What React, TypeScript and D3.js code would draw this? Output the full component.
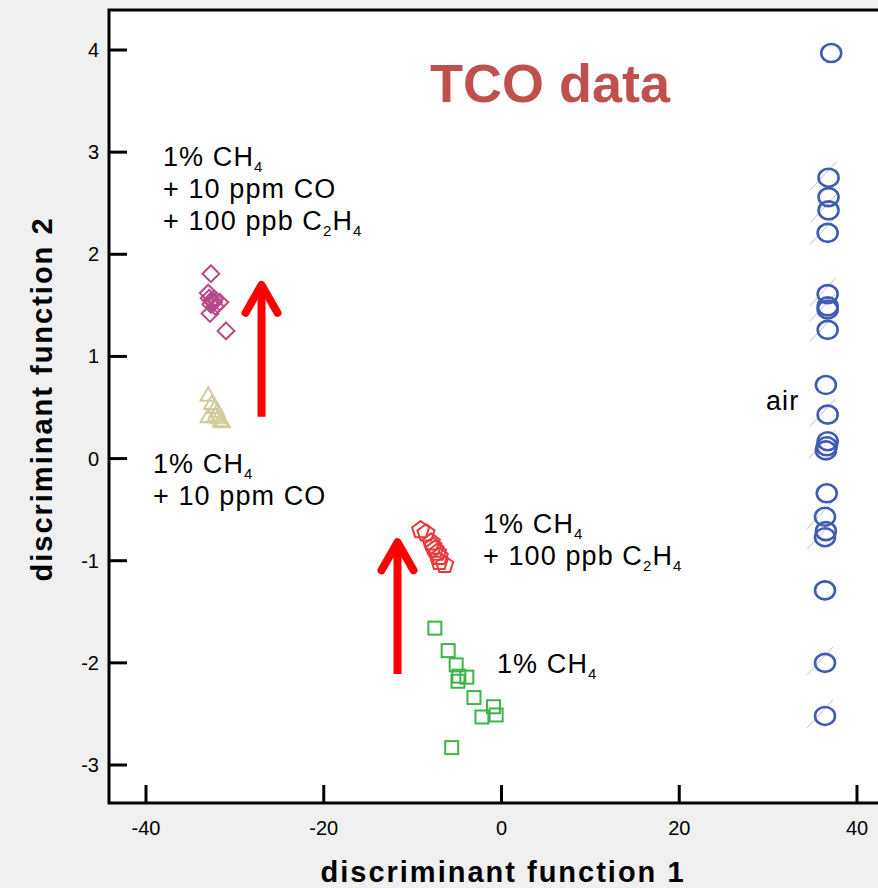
import * as d3 from "d3";

// discriminant scores
const airPts: [number, number][] = [
  [37.1, 3.97], [36.8, 2.75], [36.8, 2.56], [36.8, 2.43], [36.7, 2.21],
  [36.7, 1.61], [36.7, 1.49], [36.7, 1.46], [36.7, 1.26], [36.5, 0.72],
  [36.7, 0.43], [36.7, 0.17], [36.6, 0.12], [36.5, 0.08], [36.6, -0.34],
  [36.4, -0.57], [36.5, -0.71], [36.4, -0.77], [36.4, -1.29], [36.4, -2.0],
  [36.4, -2.52],
];
// air points that carry the faint slanted tick
const airTicked = [1, 3, 4, 5, 7, 8, 10, 12, 15, 17, 19, 20];

const ch4CoC2h4: [number, number][] = [
  [-32.7, 1.81], [-33.0, 1.62], [-32.9, 1.57], [-32.6, 1.55], [-32.3, 1.56],
  [-31.7, 1.53], [-32.7, 1.51], [-32.2, 1.49], [-32.8, 1.42], [-32.4, 1.53],
  [-31.0, 1.25],
];
const ch4Co: [number, number][] = [
  [-33.0, 0.61], [-32.6, 0.53], [-32.2, 0.49], [-32.0, 0.45], [-33.0, 0.40],
  [-32.2, 0.41], [-31.6, 0.36], [-31.9, 0.39], [-31.4, 0.35],
];
const ch4C2h4: [number, number][] = [
  [-9.1, -0.70], [-8.5, -0.73], [-7.9, -0.82], [-7.5, -0.89], [-7.2, -0.92],
  [-7.0, -0.96], [-6.4, -1.04], [-7.0, -1.01], [-7.7, -0.86],
];
const ch4Only: [number, number][] = [
  [-7.5, -1.66], [-6.0, -1.88], [-5.1, -2.02], [-4.8, -2.13], [-4.9, -2.18],
  [-3.9, -2.14], [-3.1, -2.34], [-0.9, -2.43], [-2.2, -2.53], [-0.6, -2.51],
  [-5.6, -2.83],
];

// arrows: [x, yFrom, yTo]
const arrows: [number, number, number][] = [
  [-27, 0.41, 1.73],
  [-11.7, -2.11, -0.79],
];

const xTicks = [-40, -20, 0, 20, 40];
const yTicks = [-3, -2, -1, 0, 1, 2, 3, 4];

const W = 878;
const H = 888;
const left = 109;
const top = 10;
const bottom = 803;

const x = d3.scaleLinear([-40, 40], [146, 857]);
const y = d3.scaleLinear([-3, 4], [765, 50]);

const font = "'Liberation Sans', Arial, sans-serif";

// each line is a list of [text, subscript] pieces
type Line = [string, string][];

function Label({ lines, px, py }: { lines: Line[]; px: number; py: number }) {
  return (
    <g fontSize={27} letterSpacing={1.1} fontFamily={font} fill="#000">
      {lines.map((ln, i) => (
        <text key={i} x={px} y={py + i * 32}>
          {ln.map(([t, sub], j) => [
            <tspan key={"t" + j} dy={j > 0 ? -6 : 0}>{t}</tspan>,
            sub ? (
              <tspan key={"s" + j} fontSize={15} dy={6}>
                {sub}
              </tspan>
            ) : null,
          ])}
        </text>
      ))}
    </g>
  );
}

export default function App() {
  const diamond = d3.symbol(d3.symbolDiamond2, 180)();
  const triangle = d3.symbol(d3.symbolTriangle2, 170)();
  const pent = d3.range(5).map((i) => {
    const a = -Math.PI / 2 + (i * 2 * Math.PI) / 5;
    return [9 * Math.cos(a), 9 * Math.sin(a)];
  });
  const pentPath = "M" + pent.map((p) => p.join(",")).join("L") + "Z";

  return (
    <svg width={W} height={H} style={{ position: "absolute", left: 0, top: 0 }}>
      <rect width={W} height={H} fill="#f0f0f0" />
      <rect x={left} y={top} width={W - left} height={bottom - top} fill="#fff" />

      {/* faint ticks next to air points */}
      <g stroke="#b4c0e4" strokeWidth={1}>
        {airTicked.map((i) => {
          const cx = x(airPts[i][0]);
          const cy = y(airPts[i][1]);
          return <line key={i} x1={cx - 18} y1={cy + 12} x2={cx + 8} y2={cy - 16} />;
        })}
      </g>

      <g fill="none" stroke="#3f5cb0" strokeWidth={2.6}>
        {airPts.map((d, i) => (
          <ellipse key={i} cx={x(d[0])} cy={y(d[1])} rx={10} ry={9} />
        ))}
      </g>
      <g fill="none" stroke="#b94888" strokeWidth={2}>
        {ch4CoC2h4.map((d, i) => (
          <path key={i} d={diamond!} transform={`translate(${x(d[0])},${y(d[1])})`} />
        ))}
      </g>
      <g fill="none" stroke="#d2cc9c" strokeWidth={2}>
        {ch4Co.map((d, i) => (
          <path key={i} d={triangle!} transform={`translate(${x(d[0])},${y(d[1])})`} />
        ))}
      </g>
      <g fill="none" stroke="#e8383c" strokeWidth={2}>
        {ch4C2h4.map((d, i) => (
          <path key={i} d={pentPath} transform={`translate(${x(d[0])},${y(d[1])})`} />
        ))}
      </g>
      <g fill="none" stroke="#3cb44a" strokeWidth={2}>
        {ch4Only.map((d, i) => (
          <rect key={i} x={x(d[0]) - 6.5} y={y(d[1]) - 6.5} width={13} height={13} />
        ))}
      </g>

      {/* arrows */}
      <g stroke="#ff0000" strokeWidth={8} fill="none" strokeLinecap="round" strokeLinejoin="round">
        {arrows.map(([ax, y0, y1], i) => {
          const cx = x(ax);
          const tip = y(y1);
          return (
            <g key={i}>
              <line x1={cx} x2={cx} y1={y(y0)} y2={tip + 3} strokeLinecap="butt" />
              <path d={`M${cx - 16},${tip + 31}L${cx},${tip + 3}L${cx + 16},${tip + 31}`} />
            </g>
          );
        })}
      </g>

      {/* frame and ticks */}
      <g stroke="#000" strokeWidth={3} fill="none">
        <path d={`M${W},${top}H${left}V${bottom}H${W}`} />
        {yTicks.map((t) => (
          <line key={t} x1={left} x2={left + 18} y1={y(t)} y2={y(t)} />
        ))}
        {xTicks.map((t) => (
          <line key={t} x1={x(t)} x2={x(t)} y1={bottom} y2={bottom - 18} />
        ))}
      </g>
      <g fontFamily={font} fontSize={20} fill="#000">
        {yTicks.map((t) => (
          <text key={t} x={99} y={y(t) + 7} textAnchor="end">
            {t}
          </text>
        ))}
        {xTicks.map((t) => (
          <text key={t} x={x(t)} y={835} textAnchor="middle">
            {t}
          </text>
        ))}
      </g>

      <text x={503} y={882} textAnchor="middle" fontFamily={font} fontWeight="bold" fontSize={29} letterSpacing={2}>
        discriminant function 1
      </text>
      <text
        transform="translate(52,399) rotate(-90)"
        textAnchor="middle"
        fontFamily={font}
        fontWeight="bold"
        fontSize={29}
        letterSpacing={2}
      >
        discriminant function 2
      </text>

      <text x={550} y={102} textAnchor="middle" fontFamily={font} fontWeight="bold" fontSize={54} fill="#c0504d">
        TCO data
      </text>

      <Label
        px={163}
        py={166}
        lines={[[["1% CH", "4"]], [["+ 10 ppm CO", ""]], [["+ 100 ppb C", "2"], ["H", "4"]]]}
      />
      <Label px={153} py={473} lines={[[["1% CH", "4"]], [["+ 10 ppm CO", ""]]]} />
      <Label px={483} py={533} lines={[[["1% CH", "4"]], [["+ 100 ppb C", "2"], ["H", "4"]]]} />
      <Label px={497} py={673} lines={[[["1% CH", "4"]]]} />
      <Label px={766} py={410} lines={[[["air", ""]]]} />
    </svg>
  );
}
